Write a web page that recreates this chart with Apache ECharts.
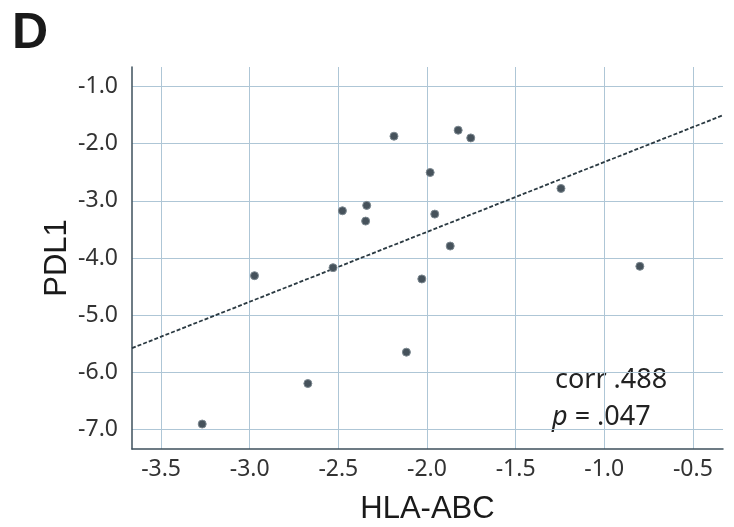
<!DOCTYPE html>
<html>
<head>
<meta charset="utf-8">
<script src="https://cdn.jsdelivr.net/npm/echarts@6/dist/echarts.min.js"></script>
<style>
  html, body { margin: 0; padding: 0; background: #fff; }
  #myChart { width: 734px; height: 527px; }
</style>
</head>
<body>
<div id="myChart"></div>
<script>
// values
var hlaAbc = [-2.186, -2.340, -2.477, -2.346, -2.530, -2.973, -1.824, -1.753, -1.982,
              -1.244, -1.956, -1.869, -0.799, -2.029, -3.268, -2.672, -2.116];
var pdl1   = [-1.872, -3.081, -3.175, -3.355, -4.169, -4.309, -1.767, -1.902, -2.506,
              -2.785, -3.233, -3.791, -4.145, -4.366, -6.901, -6.193, -5.645];
// fit line end points
var fitX = [-3.664, -0.33];
var fitY = [-5.575, -1.506];
var xRange = [-3.664, -0.33];
var yRange = [-7.337, -0.663];

var points = hlaAbc.map(function (x, i) { return [x, pdl1[i]]; });
var fit = fitX.map(function (x, i) { return [x, fitY[i]]; });

var myChart = echarts.init(document.getElementById('myChart'));
var gridColor = '#aec6d6';
var axisColor = '#3e505c';
var option = {
    backgroundColor: '#fff',
    animation: false,
    title: {
        text: 'D',
        left: 7,
        top: 4,
        textStyle: { fontFamily: 'Liberation Sans', fontWeight: 'bold', fontSize: 50, color: '#1a1a1a' }
    },
    grid: { left: 132, right: 11, top: 67, bottom: 78, containLabel: false, outerBoundsMode: 'none' },
    xAxis: {
        type: 'value',
        min: xRange[0],
        max: xRange[1],
        name: 'HLA-ABC',
        nameLocation: 'middle',
        nameGap: 45,
        nameTextStyle: { fontFamily: 'Liberation Sans', fontSize: 31, color: '#1a1a1a' },
        axisLine: { show: true, onZero: false, lineStyle: { color: axisColor, width: 1.5 } },
        axisTick: { show: false },
        axisLabel: {
            showMinLabel: false, showMaxLabel: false,
            margin: 9,
            fontFamily: 'Noto Sans', fontSize: 23, color: '#333',
            formatter: function (v) { return v.toFixed(1); }
        },
        splitLine: { show: true, showMinLine: false, showMaxLine: false, lineStyle: { color: gridColor, width: 1 } }
    },
    yAxis: {
        type: 'value',
        min: yRange[0],
        max: yRange[1],
        name: 'PDL1',
        nameLocation: 'middle',
        nameGap: 59,
        nameMoveOverlap: false,
        nameTextStyle: { fontFamily: 'Liberation Sans', fontSize: 31, color: '#1a1a1a' },
        axisLine: { show: true, onZero: false, lineStyle: { color: axisColor, width: 1.5 } },
        axisTick: { show: false },
        axisLabel: {
            showMinLabel: false, showMaxLabel: false,
            margin: 14,
            fontFamily: 'Noto Sans', fontSize: 23, color: '#333',
            formatter: function (v) { return v.toFixed(1); }
        },
        splitLine: { show: true, showMinLine: false, showMaxLine: false, lineStyle: { color: gridColor, width: 1 } }
    },
    graphic: [
        {
            type: 'text',
            left: 555,
            top: 367,
            style: {
                text: 'corr .488',
                fontFamily: 'Noto Sans', fontSize: 27, fill: '#222'
            }
        },
        {
            type: 'text',
            left: 552,
            top: 404,
            style: {
                text: '{i|p} = .047',
                fontFamily: 'Noto Sans', fontSize: 27, fill: '#222',
                rich: { i: { fontFamily: 'Noto Sans', fontStyle: 'italic', fontSize: 27, fill: '#222' } }
            }
        }
    ],
    series: [
        {
            type: 'line',
            data: fit,
            symbol: 'none',
            lineStyle: { color: '#2b3a42', width: 1.8, type: [4, 2] },
            z: 3
        },
        {
            type: 'scatter',
            data: points,
            symbol: 'circle',
            symbolSize: 8,
            itemStyle: { color: '#46525b', borderColor: '#7c8890', borderWidth: 1, opacity: 1 },
            z: 4
        }
    ]
};
myChart.setOption(option);
</script>
</body>
</html>
